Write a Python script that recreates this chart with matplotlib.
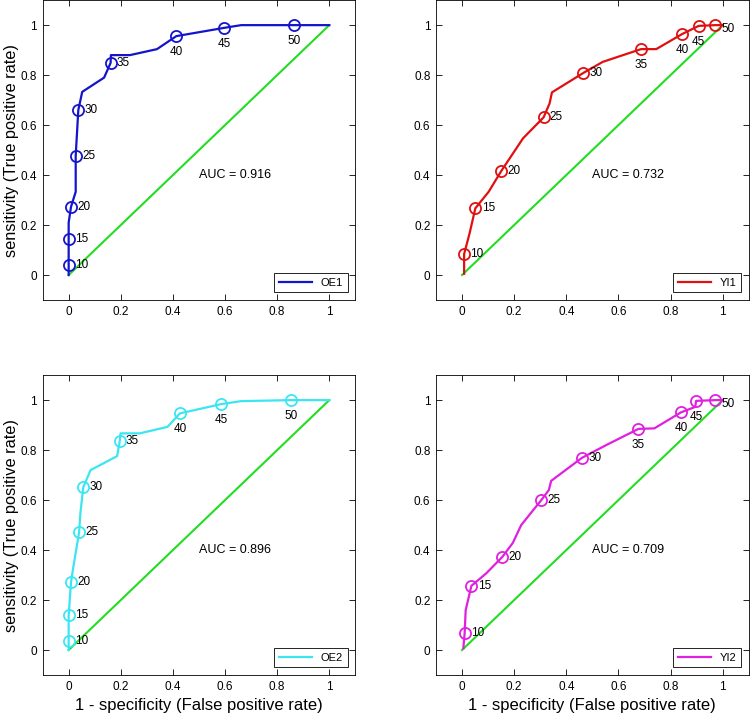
import matplotlib
matplotlib.use("Agg")
import matplotlib.pyplot as plt
from matplotlib import font_manager

names = {f.name for f in font_manager.fontManager.ttflist}
fam = ['Liberation Sans Narrow', 'Liberation Sans', 'DejaVu Sans']
fam = [f for f in fam if f in names] or ['DejaVu Sans']
plt.rcParams['font.family'] = fam

# ---- data ----
thresholds = [10, 15, 20, 25, 30, 35, 40, 45, 50]

oe1_fpr = [0, 0, 0, 0, 0.009, 0.027, 0.027, 0.037, 0.052, 0.136, 0.161, 0.162, 0.235, 0.339, 0.413, 0.596, 0.662, 0.866, 1.0]
oe1_tpr = [0, 0.04, 0.143, 0.21, 0.273, 0.333, 0.477, 0.66, 0.733, 0.79, 0.849, 0.88, 0.88, 0.904, 0.956, 0.989, 1.0, 1.0, 1.0]
oe1_mk = [1, 2, 4, 6, 7, 10, 14, 15, 17]

yi1_fpr = [0.008, 0.008, 0.029, 0.051, 0.102, 0.151, 0.234, 0.313, 0.336, 0.345, 0.466, 0.540, 0.687, 0.745, 0.844, 0.908, 0.972, 1.0]
yi1_tpr = [0.005, 0.084, 0.167, 0.267, 0.333, 0.417, 0.547, 0.631, 0.687, 0.731, 0.809, 0.853, 0.904, 0.904, 0.964, 0.997, 1.0, 1.0]
yi1_mk = [1, 3, 5, 7, 10, 12, 14, 15, 16]

oe2_fpr = [0, 0, 0, 0.009, 0.018, 0.04, 0.045, 0.056, 0.084, 0.186, 0.196, 0.199, 0.273, 0.379, 0.427, 0.585, 0.662, 0.853, 1.0]
oe2_tpr = [0, 0.037, 0.14, 0.271, 0.333, 0.471, 0.547, 0.651, 0.72, 0.776, 0.836, 0.867, 0.867, 0.893, 0.947, 0.984, 0.996, 1.0, 1.0]
oe2_mk = [1, 2, 3, 5, 7, 10, 14, 15, 17]

yi2_fpr = [0.005, 0.01, 0.014, 0.036, 0.093, 0.155, 0.195, 0.227, 0.304, 0.333, 0.342, 0.46, 0.553, 0.677, 0.738, 0.840, 0.895, 0.898, 0.972, 1.0]
yi2_tpr = [0.007, 0.067, 0.16, 0.257, 0.307, 0.373, 0.429, 0.5, 0.6, 0.64, 0.677, 0.769, 0.82, 0.885, 0.887, 0.951, 0.973, 0.997, 1.0, 1.0]
yi2_mk = [1, 3, 5, 8, 11, 13, 15, 17, 18]

auc = [0.916, 0.732, 0.896, 0.709]
names_s = ['OE1', 'YI1', 'OE2', 'YI2']
ticks = [0, 0.2, 0.4, 0.6, 0.8, 1]
tick_labels = ['0', '0.2', '0.4', '0.6', '0.8', '1']

# style: label placement per marker ('r' right, 'b' below)
place = [
    ['r', 'r', 'r', 'r', 'r', 'r', 'b', 'b', 'b'],
    ['r', 'r', 'r', 'r', 'r', 'b', 'b', 'b', 'rl'],
    ['r', 'r', 'r', 'r', 'r', 'r', 'b', 'b', 'b'],
    ['r', 'r', 'r', 'r', 'r', 'b', 'b', 'b', 'rl'],
]
colors = ['#1414cc', '#e01010', '#3be6f2', '#e020e0']
diag = '#22dd22'

series = [(oe1_fpr, oe1_tpr, oe1_mk), (yi1_fpr, yi1_tpr, yi1_mk),
          (oe2_fpr, oe2_tpr, oe2_mk), (yi2_fpr, yi2_tpr, yi2_mk)]

fig = plt.figure(figsize=(7.5, 7.14), dpi=100)
positions = [
    [0.0568, 0.5798, 0.417, 0.420],
    [0.5813, 0.5798, 0.417, 0.420],
    [0.0568, 0.0546, 0.417, 0.420],
    [0.5813, 0.0546, 0.417, 0.420],
]

for i, (fx, ty, mk) in enumerate(series):
    ax = fig.add_axes(positions[i])
    c = colors[i]
    ax.plot([0, 1], [0, 1], color=diag, lw=1.5, zorder=2)
    line, = ax.plot(fx, ty, color=c, lw=1.6, zorder=3, label=names_s[i])
    mx = [fx[k] for k in mk]
    my = [ty[k] for k in mk]
    ax.plot(mx, my, 'o', mfc='none', mec=c, mew=1.3, ms=8, zorder=4)
    for j, (xv, yv) in enumerate(zip(mx, my)):
        p = place[i][j]
        if p == 'r':
            ax.annotate(str(thresholds[j]), (xv, yv), xytext=(4.5, 0),
                        textcoords='offset points', ha='left', va='center', fontsize=8.5)
        elif p == 'rl':
            ax.annotate(str(thresholds[j]), (xv, yv), xytext=(4.5, -2.5),
                        textcoords='offset points', ha='left', va='center', fontsize=8.5)
        else:
            ax.annotate(str(thresholds[j]), (xv, yv), xytext=(0, -7),
                        textcoords='offset points', ha='center', va='top', fontsize=8.5)
    ax.text(0.5, 0.4, 'AUC = %.3f' % auc[i], fontsize=9, ha='left', va='center')
    ax.set_xlim(-0.1, 1.1)
    ax.set_ylim(-0.1, 1.1)
    ax.set_xticks(ticks)
    ax.set_xticklabels(tick_labels)
    ax.set_yticks(ticks)
    ax.set_yticklabels(tick_labels)
    ax.tick_params(direction='in', top=True, right=True, labelsize=8.5, length=4, width=0.6, pad=4)
    for s in ax.spines.values():
        s.set_linewidth(0.6)
    leg = ax.legend(handles=[line], loc='lower right', fontsize=8, fancybox=False,
                    framealpha=1, edgecolor='black', handlelength=3.0, borderpad=0.4,
                    borderaxespad=0.7)
    leg.get_frame().set_linewidth(0.6)
    if i % 2 == 0:
        ax.set_ylabel('sensitivity (True positive rate)', fontsize=11.8)
        ax.yaxis.label.set_va('center')
        ax.yaxis.set_label_coords(-0.098, 0.5)
    if i >= 2:
        ax.set_xlabel('1 - specificity (False positive rate)', fontsize=12)
        ax.xaxis.label.set_va('center')
        ax.xaxis.set_label_coords(0.5, -0.1)

fig.savefig('out.png', dpi=100)
